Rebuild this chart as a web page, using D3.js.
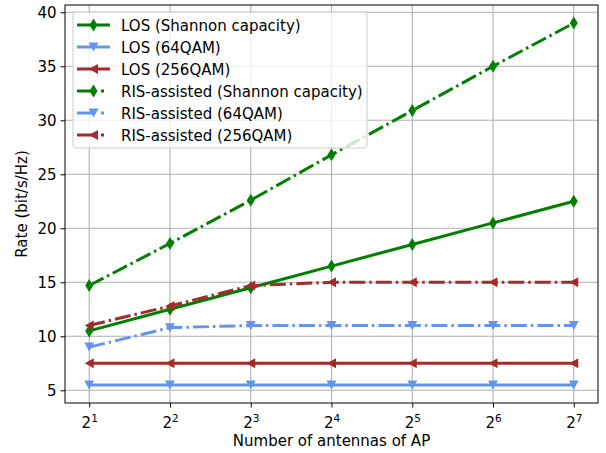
<!DOCTYPE html>
<html>
<head>
<meta charset="utf-8">
<script src="https://cdn.jsdelivr.net/npm/d3@7"></script>
<style>
  body { margin: 0; background: #fff; }
  text { font-family: "DejaVu Sans", sans-serif; }
</style>
</head>
<body>
<script>
var width  = 606;
var height = 453;

// x values are numbers of AP antennas (2^1 .. 2^7)
var antennas   = [2, 4, 8, 16, 32, 64, 128];
var xExponents = [1, 2, 3, 4, 5, 6, 7];
var yTicks     = [5, 10, 15, 20, 25, 30, 35, 40];

var losShannon = [10.5, 12.5, 14.5, 16.5, 18.5, 20.5, 22.5];
var los64      = [5.5, 5.5, 5.5, 5.5, 5.5, 5.5, 5.5];
var los256     = [7.5, 7.5, 7.5, 7.5, 7.5, 7.5, 7.5];
var risShannon = [14.7, 18.6, 22.6, 26.8, 30.9, 35.0, 39.0];
var ris64      = [9.0, 10.8, 11.0, 11.0, 11.0, 11.0, 11.0];
var ris256     = [11.0, 12.8, 14.7, 15.0, 15.0, 15.0, 15.0];

var seriesNames = ['LOS (Shannon capacity)', 'LOS (64QAM)', 'LOS (256QAM)',
                   'RIS-assisted (Shannon capacity)', 'RIS-assisted (64QAM)', 'RIS-assisted (256QAM)'];

var series = [
    { name: seriesNames[0], values: losShannon, color: 'green',          marker: 'd', dash: null }
  , { name: seriesNames[1], values: los64,      color: 'cornflowerblue', marker: 'v', dash: null }
  , { name: seriesNames[2], values: los256,     color: 'brown',          marker: '<', dash: null }
  , { name: seriesNames[3], values: risShannon, color: 'green',          marker: 'd', dash: '16,4,2.5,4' }
  , { name: seriesNames[4], values: ris64,      color: 'cornflowerblue', marker: 'v', dash: '16,4,2.5,4' }
  , { name: seriesNames[5], values: ris256,     color: 'brown',          marker: '<', dash: '16,4,2.5,4' }
];

var axL = 65, axR = 598, axT = 5, axB = 403;

var x = d3.scaleLog().base(2)
          .domain([Math.pow(2, 0.7), Math.pow(2, 7.3)])
          .range([axL, axR]);

var y = d3.scaleLinear()
          .domain([3.825, 40.675])
          .range([axB, axT]);

var svg = d3.select('body')
            .append('svg')
            .attr('width', width)
            .attr('height', height);

// grid
svg.append('g').selectAll('line')
   .data(antennas).enter().append('line')
   .attr('x1', function(d){ return x(d); })
   .attr('x2', function(d){ return x(d); })
   .attr('y1', axT).attr('y2', axB)
   .attr('stroke', '#b0b0b0').attr('stroke-width', 1.1);

svg.append('g').selectAll('line')
   .data(yTicks).enter().append('line')
   .attr('x1', axL).attr('x2', axR)
   .attr('y1', function(d){ return y(d); })
   .attr('y2', function(d){ return y(d); })
   .attr('stroke', '#b0b0b0').attr('stroke-width', 1.1);

// axes
var xAxis = d3.axisBottom(x)
              .tickValues(antennas)
              .tickSize(4.5)
              .tickPadding(4)
              .tickFormat('');

var gx = svg.append('g')
            .attr('transform', 'translate(0,' + axB + ')')
            .call(xAxis);

gx.selectAll('.tick').each(function(d, i){
  var t = d3.select(this).append('text')
            .attr('y', 25)
            .attr('fill', 'black')
            .attr('font-size', '15px')
            .attr('text-anchor', 'middle');
  t.append('tspan').text('2');
  t.append('tspan').attr('dy', -6.5).attr('font-size', '10.5px').text(xExponents[i]);
});

var yAxis = d3.axisLeft(y)
              .tickValues(yTicks)
              .tickSize(4.5)
              .tickPadding(4);

var gy = svg.append('g')
            .attr('transform', 'translate(' + axL + ',0)')
            .call(yAxis);

gy.selectAll('text').attr('font-size', '15px').attr('font-family', 'DejaVu Sans, sans-serif').attr('fill', 'black');
[gx, gy].forEach(function(g){
  g.select('.domain').remove();
  g.selectAll('.tick line').attr('stroke', 'black').attr('stroke-width', 1);
});

// lines and markers
var line = d3.line()
             .x(function(d){ return x(d.a); })
             .y(function(d){ return y(d.v); });

function markerPath(type){
  if (type === 'd') return 'M0,-6.5L4,0L0,6.5L-4,0Z';
  if (type === 'v') return 'M-5,-4.5L5,-4.5L0,4.5Z';
  return 'M-4.5,0L4.5,-5L4.5,5Z';
}

series.forEach(function(s){
  var pts = s.values.map(function(v, i){ return { a: antennas[i], v: v }; });
  svg.append('path')
     .datum(pts)
     .attr('d', line)
     .attr('fill', 'none')
     .attr('stroke', s.color)
     .attr('stroke-width', 3)
     .attr('stroke-dasharray', s.dash);
  svg.append('g').selectAll('path')
     .data(pts).enter().append('path')
     .attr('d', markerPath(s.marker))
     .attr('transform', function(d){ return 'translate(' + x(d.a) + ',' + y(d.v) + ')'; })
     .attr('fill', s.color);
});

// frame
svg.append('rect')
   .attr('x', axL).attr('y', axT)
   .attr('width', axR - axL).attr('height', axB - axT)
   .attr('fill', 'none').attr('stroke', 'black').attr('stroke-width', 1);

// legend
var legend = svg.append('g');
legend.append('rect')
      .attr('x', 73).attr('y', 12)
      .attr('width', 294).attr('height', 136)
      .attr('rx', 3)
      .attr('fill', 'white').attr('fill-opacity', 0.8)
      .attr('stroke', '#cccccc').attr('stroke-width', 1);

var rows = legend.selectAll('g.row')
                 .data(series).enter().append('g')
                 .attr('transform', function(d, i){ return 'translate(0,' + (25 + i * 22) + ')'; });

rows.append('line')
    .attr('x1', 77).attr('x2', 110)
    .attr('y1', 0).attr('y2', 0)
    .attr('stroke', function(d){ return d.color; })
    .attr('stroke-width', 3)
    .attr('stroke-dasharray', function(d){ return d.dash ? '17,7,3,20' : null; });

rows.append('path')
    .attr('d', function(d){ return markerPath(d.marker); })
    .attr('transform', 'translate(93.5,0)')
    .attr('fill', function(d){ return d.color; });

rows.append('text')
    .attr('x', 121).attr('y', 5.5)
    .attr('font-size', '15px')
    .text(function(d){ return d.name; });

// axis labels
svg.append('text')
   .attr('x', (axL + axR) / 2).attr('y', 446)
   .attr('text-anchor', 'middle')
   .attr('font-size', '15px')
   .text('Number of antennas of AP');

svg.append('text')
   .attr('transform', 'translate(27,' + ((axT + axB) / 2) + ') rotate(-90)')
   .attr('text-anchor', 'middle')
   .attr('font-size', '15px')
   .text('Rate (bit/s/Hz)');
</script>
</body>
</html>
